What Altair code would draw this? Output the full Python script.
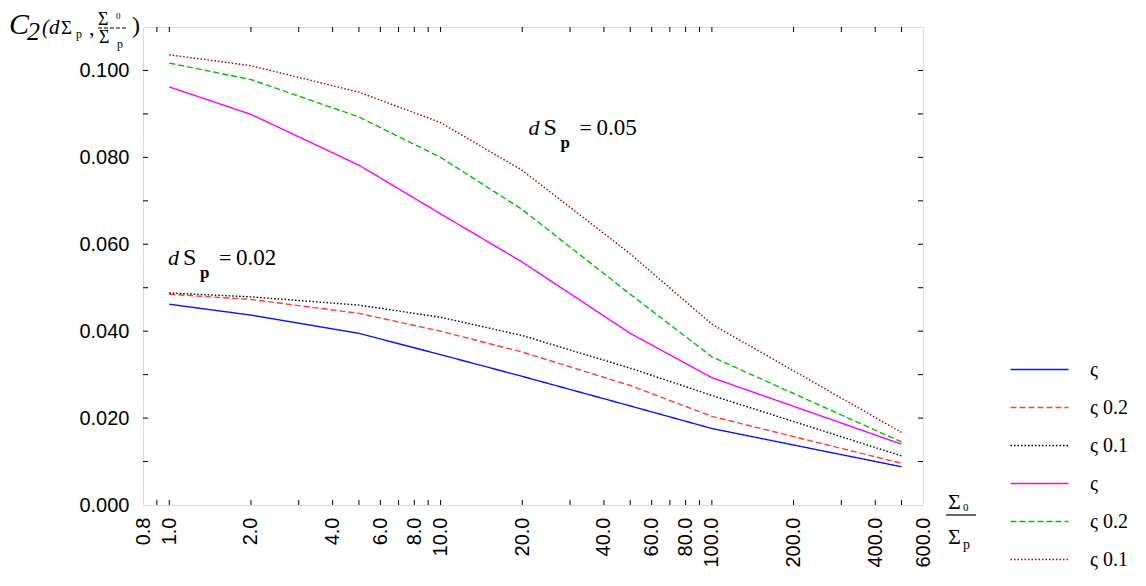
import altair as alt
import pandas as pd

# ---- data ----
x_vals = [1, 2, 5, 10, 20, 50, 100, 500]
blue_002 = [0.0462, 0.0437, 0.0395, 0.0346, 0.0296, 0.0228, 0.0176, 0.0088]
red_002 = [0.0485, 0.0473, 0.0441, 0.0400, 0.0352, 0.0275, 0.0204, 0.0096]
black_002 = [0.0488, 0.0479, 0.0460, 0.0432, 0.0390, 0.0315, 0.0252, 0.0113]
magenta_005 = [0.0962, 0.0899, 0.0782, 0.0670, 0.0559, 0.0395, 0.0293, 0.0140]
green_005 = [0.1017, 0.0979, 0.0893, 0.0800, 0.0680, 0.0485, 0.0341, 0.0145]
darkred_005 = [0.1036, 0.1011, 0.0950, 0.0880, 0.0770, 0.0578, 0.0416, 0.0167]

series_keys = ["a|ς", "b|ς 0.2", "c|ς 0.1", "d|ς", "e|ς 0.2", "f|ς 0.1"]
series_vals = [blue_002, red_002, black_002, magenta_005, green_005, darkred_005]
series_colors = ["#1010ff", "#ff3b3b", "#000000", "#ff00ff", "#00c000", "#a00000"]
series_dash = [[1, 0], [6, 3], [1.5, 2], [1, 0], [6, 3], [1.5, 2]]

x_tick_labels = [0.8, 1, 2, 4, 6, 8, 10, 20, 40, 60, 80, 100, 200, 400, 600]
y_tick_labels = [0.0, 0.02, 0.04, 0.06, 0.08, 0.10]
x_minor = [0.9, 1, 2, 3, 4, 5, 6, 7, 8, 9, 10, 20, 30, 40, 50, 60, 70, 80, 90,
           100, 200, 300, 400, 500]
y_minor = [0.01, 0.02, 0.03, 0.04, 0.05, 0.06, 0.07, 0.08, 0.09, 0.10]

W, H = 780, 478

rows = []
for k, vals in zip(series_keys, series_vals):
    for xv, yv in zip(x_vals, vals):
        rows.append({"x": xv, "y": yv, "key": k})
df = pd.DataFrame(rows)

xscale = alt.Scale(type="log", domain=[0.8, 600], nice=False)
yscale = alt.Scale(domain=[0, 0.11], nice=False, zero=False)

legend = alt.Legend(
    title=None, orient="none", legendX=881, legendY=327,
    labelExpr="split(datum.label, '|')[1]",
    symbolType="M-2,0H2", symbolSize=841, symbolStrokeWidth=1.6,
    labelFont="Liberation Serif", labelFontSize=20, labelOffset=35,
    rowPadding=12,
)

lines = alt.Chart(df).mark_line(strokeWidth=1.4).encode(
    x=alt.X("x:Q", scale=xscale, axis=alt.Axis(
        values=x_tick_labels, format=".1f", labelAngle=-90, title=None,
        labelFont="Liberation Sans", labelFontSize=20, labelColor="black",
        ticks=False, domain=False, grid=False, labelPadding=12,
        labelOverlap=False, labelBound=False, labelFlush=False)),
    y=alt.Y("y:Q", scale=yscale, axis=alt.Axis(
        values=y_tick_labels, format=".3f", title=None,
        labelFont="Liberation Sans", labelFontSize=20, labelColor="black",
        ticks=False, domain=False, grid=False, labelPadding=14)),
    color=alt.Color("key:N", scale=alt.Scale(domain=series_keys, range=series_colors),
                    legend=legend),
    strokeDash=alt.StrokeDash("key:N", scale=alt.Scale(domain=series_keys, range=series_dash),
                              legend=legend),
)

# inward tick marks
xt = pd.DataFrame({"x": x_minor})
yt = pd.DataFrame({"y": y_minor})
tick_b = alt.Chart(xt).mark_rule(color="black", strokeWidth=1).encode(
    x="x:Q", y=alt.value(H), y2=alt.value(H - 5))
tick_t = alt.Chart(xt).mark_rule(color="black", strokeWidth=1).encode(
    x="x:Q", y=alt.value(0), y2=alt.value(5))
tick_l = alt.Chart(yt).mark_rule(color="black", strokeWidth=1).encode(
    y="y:Q", x=alt.value(0), x2=alt.value(5))
tick_r = alt.Chart(yt).mark_rule(color="black", strokeWidth=1).encode(
    y="y:Q", x=alt.value(W), x2=alt.value(W - 5))


def part(x0, y0, txt, dx, dy, size, style="normal", weight="normal"):
    d = pd.DataFrame({"x": [x0], "y": [y0], "t": [txt]})
    return alt.Chart(d).mark_text(
        align="left", baseline="alphabetic", dx=dx, dy=dy, fontSize=size,
        font="Liberation Serif", fontStyle=style, fontWeight=weight, color="black",
    ).encode(x="x:Q", y="y:Q", text="t:N")


def annot(x0, y0, value):
    return [
        part(x0, y0, "d", 0, 0, 22, style="italic"),
        part(x0, y0, "S", 15, 0, 24),
        part(x0, y0, "p", 32, 13, 17, weight="bold"),
        part(x0, y0, "=", 51, 0, 22),
        part(x0, y0, value, 68, 0, 23),
    ]


def ptext(txt, px, py, size, style="normal", weight="normal", align="left"):
    d = pd.DataFrame({"t": [txt]})
    return alt.Chart(d).mark_text(
        align=align, baseline="alphabetic", fontSize=size, font="Liberation Serif",
        fontStyle=style, fontWeight=weight, color="black",
    ).encode(x=alt.value(px - 143), y=alt.value(py - 27), text="t:N")


# y-axis title pieces (page coordinates)
ytitle = [
    ptext("C", 9, 34, 30, style="italic"),
    ptext("2", 27, 40, 26, style="italic"),
    ptext("(d", 42, 34, 21, style="italic"),
    ptext("Σ", 61, 34, 19),
    ptext("p", 76, 38, 12),
    ptext(",", 89, 35, 22),
    ptext("Σ", 98, 25, 18),
    ptext("0", 116, 19, 9),
    ptext("Σ", 99, 43, 18),
    ptext("p", 117, 48, 12),
    ptext(")", 132, 33, 24),
]
ybar = alt.Chart(pd.DataFrame({"v": [0]})).mark_rule(
    color="black", strokeWidth=1, strokeDash=[4, 2]).encode(
    x=alt.value(98 - 143), x2=alt.value(126 - 143), y=alt.value(28 - 27))

# x-axis title pieces
xtitle = [
    ptext("Σ", 948, 509, 22),
    ptext("0", 963, 511, 11),
    ptext("Σ", 948, 544, 22),
    ptext("p", 963, 549, 14),
]
xbar = alt.Chart(pd.DataFrame({"v": [0]})).mark_rule(
    color="black", strokeWidth=1.2).encode(
    x=alt.value(946 - 143), x2=alt.value(976 - 143), y=alt.value(515 - 27))

layers = [lines, tick_b, tick_t, tick_l, tick_r]
layers += annot(21.1, 0.0851, "0.05")
layers += annot(0.99, 0.0552, "0.02")
layers += ytitle + [ybar] + xtitle + [xbar]

chart = alt.layer(*layers).properties(
    width=W, height=H,
    autosize=alt.AutoSizeParams(type="none"),
    padding={"left": 135, "top": 19, "right": 215, "bottom": 70},
).configure_view(
    stroke="black", strokeWidth=1.5
).configure(background="white")

chart.save("out.html", embed_options={"renderer": "svg", "actions": False})
